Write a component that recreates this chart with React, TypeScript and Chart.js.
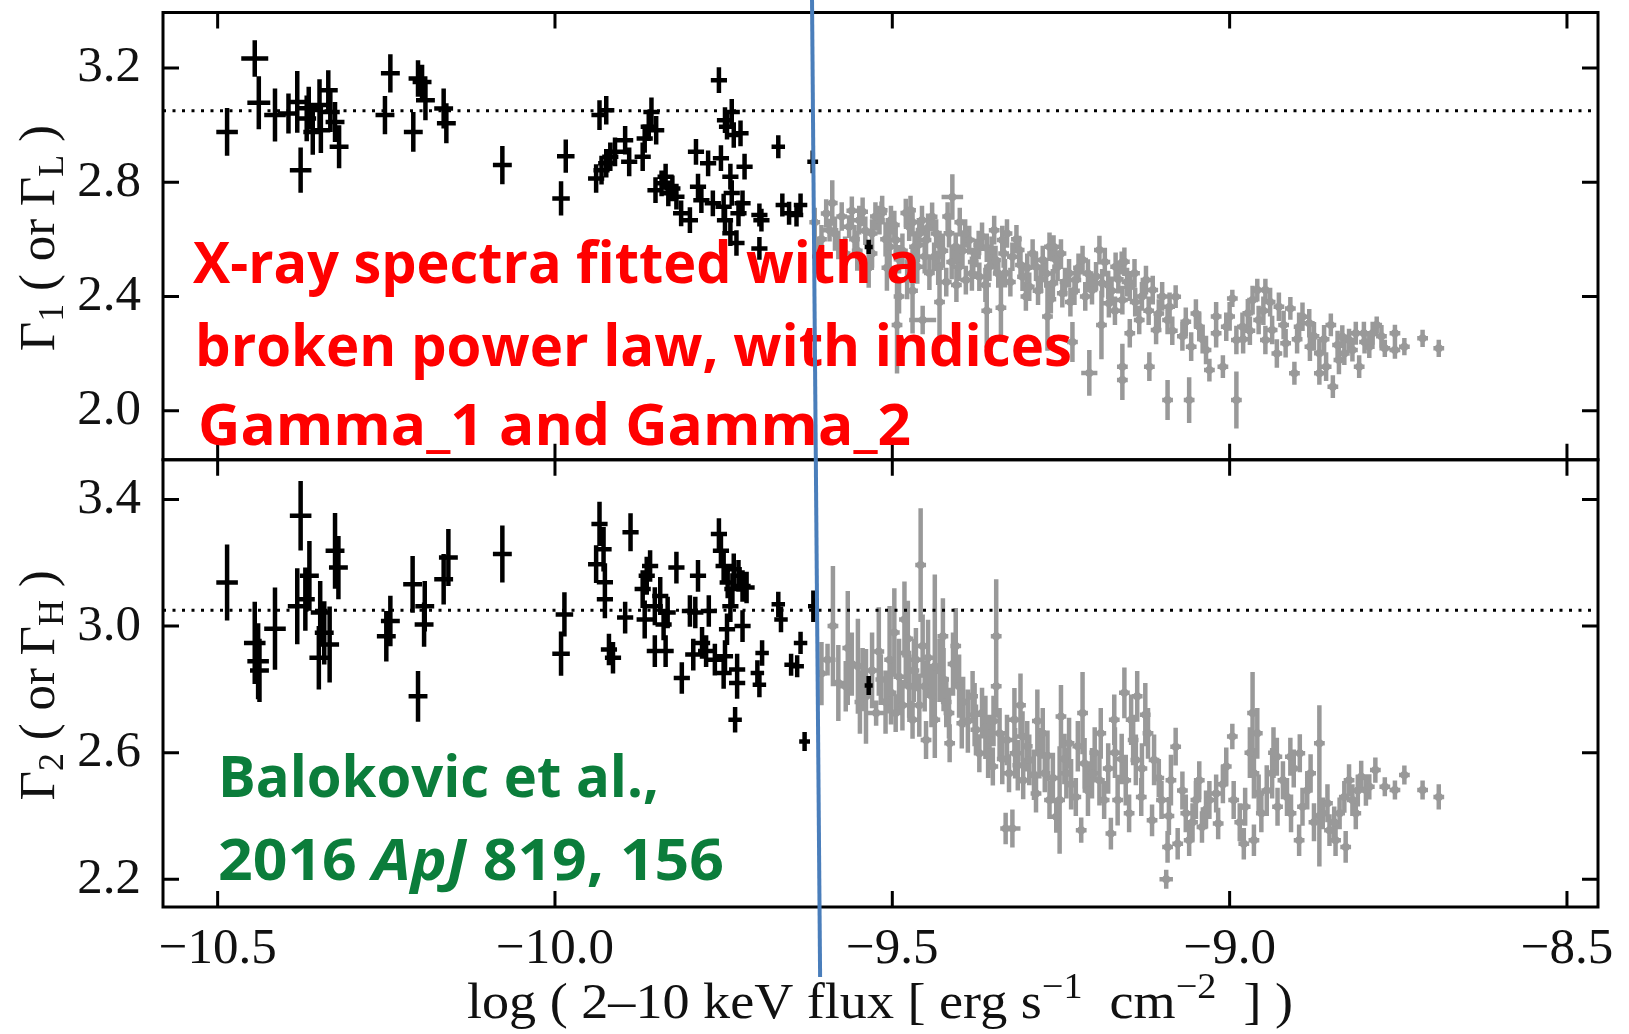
import React, { useEffect, useRef } from "react";
import { Chart, registerables } from "chart.js";

Chart.register(...registerables);

// ---------------- data ----------------
const xTicks = [-10.5, -10.0, -9.5, -9.0, -8.5];
const topYTicks = [2.0, 2.4, 2.8, 3.2];
const botYTicks = [2.2, 2.6, 3.0, 3.4];
const xRange = [-10.581, -8.454];
const topYRange = [1.828, 3.394];
const botYRange = [2.112, 3.526];
const referenceLevel = 3.05;
const blueLineX = [-9.619, -9.607];

type Pt = [number, number, number, number]; // x, y, xerr, yerr

const topBlack: Pt[] = [
  [-10.486, 2.976, 0.016, 0.084], [-10.445, 3.233, 0.02, 0.064], [-10.439, 3.078, 0.017, 0.093],
  [-10.415, 3.035, 0.016, 0.093], [-10.395, 3.04, 0.016, 0.07], [-10.382, 3.081, 0.016, 0.108],
  [-10.377, 2.842, 0.016, 0.079], [-10.368, 3.023, 0.014, 0.08], [-10.365, 3.059, 0.014, 0.075],
  [-10.359, 2.976, 0.014, 0.08], [-10.349, 3.07, 0.014, 0.09], [-10.347, 2.982, 0.014, 0.08],
  [-10.336, 3.122, 0.014, 0.07], [-10.333, 3.046, 0.014, 0.07], [-10.326, 3.011, 0.014, 0.07],
  [-10.32, 2.924, 0.014, 0.075], [-10.244, 3.181, 0.014, 0.067], [-10.252, 3.035, 0.014, 0.067],
  [-10.21, 2.976, 0.014, 0.07], [-10.203, 3.163, 0.014, 0.064], [-10.197, 3.151, 0.014, 0.06],
  [-10.192, 3.087, 0.014, 0.07], [-10.165, 3.058, 0.014, 0.07], [-10.161, 3.006, 0.014, 0.07],
  [-10.078, 2.86, 0.014, 0.067], [-9.984, 2.891, 0.013, 0.058], [-9.991, 2.743, 0.013, 0.06],
  [-9.934, 3.035, 0.012, 0.052], [-9.924, 3.052, 0.012, 0.05], [-9.939, 2.813, 0.012, 0.05],
  [-9.931, 2.842, 0.012, 0.05], [-9.924, 2.866, 0.012, 0.05], [-9.918, 2.889, 0.012, 0.05],
  [-9.911, 2.906, 0.012, 0.05], [-9.896, 2.947, 0.012, 0.05], [-9.89, 2.871, 0.012, 0.05],
  [-9.87, 2.889, 0.012, 0.05], [-9.867, 2.953, 0.012, 0.05], [-9.861, 2.994, 0.012, 0.05],
  [-9.857, 3.046, 0.012, 0.05], [-9.85, 2.982, 0.012, 0.05], [-9.851, 2.772, 0.012, 0.045],
  [-9.842, 2.796, 0.012, 0.045], [-9.836, 2.819, 0.012, 0.045], [-9.832, 2.761, 0.012, 0.045],
  [-9.826, 2.778, 0.012, 0.045], [-9.82, 2.749, 0.012, 0.045], [-9.813, 2.691, 0.012, 0.045],
  [-9.8, 2.667, 0.012, 0.045], [-9.791, 2.906, 0.012, 0.045], [-9.788, 2.784, 0.012, 0.045],
  [-9.783, 2.737, 0.012, 0.045], [-9.773, 2.866, 0.012, 0.045], [-9.766, 2.726, 0.012, 0.045],
  [-9.757, 3.157, 0.012, 0.045], [-9.754, 2.884, 0.012, 0.045], [-9.748, 3.017, 0.012, 0.045],
  [-9.745, 2.994, 0.012, 0.045], [-9.738, 3.046, 0.012, 0.045], [-9.735, 2.965, 0.012, 0.045],
  [-9.725, 2.971, 0.012, 0.045], [-9.74, 2.819, 0.012, 0.045], [-9.738, 2.762, 0.012, 0.045],
  [-9.748, 2.667, 0.012, 0.045], [-9.74, 2.621, 0.012, 0.045], [-9.731, 2.587, 0.012, 0.045],
  [-9.728, 2.691, 0.012, 0.045], [-9.722, 2.726, 0.012, 0.045], [-9.719, 2.854, 0.012, 0.045],
  [-9.75, 2.714, 0.012, 0.045], [-9.697, 2.685, 0.012, 0.04], [-9.697, 2.568, 0.012, 0.04],
  [-9.694, 2.667, 0.012, 0.04], [-9.669, 2.924, 0.01, 0.04], [-9.663, 2.72, 0.01, 0.04],
  [-9.653, 2.691, 0.01, 0.04], [-9.636, 2.72, 0.01, 0.04], [-9.642, 2.685, 0.01, 0.04],
  [-9.618, 2.871, 0.008, 0.04], [-9.535, 2.573, 0.006, 0.025],
];

const topGray: Pt[] = [
  [-9.615, 2.66, 0.008, 0.05], [-9.605, 2.6, 0.008, 0.05], [-9.593, 2.632, 0.013, 0.04],
  [-9.589, 2.727, 0.008, 0.08], [-9.58, 2.58, 0.008, 0.05], [-9.57, 2.55, 0.008, 0.06],
  [-9.564, 2.644, 0.008, 0.04], [-9.556, 2.6, 0.008, 0.05], [-9.549, 2.667, 0.008, 0.05],
  [-9.544, 2.696, 0.008, 0.05], [-9.53, 2.62, 0.008, 0.05], [-9.53, 2.55, 0.008, 0.05],
  [-9.519, 2.667, 0.008, 0.05], [-9.516, 2.692, 0.008, 0.04], [-9.515, 2.702, 0.008, 0.05],
  [-9.504, 2.574, 0.008, 0.09], [-9.502, 2.667, 0.008, 0.05], [-9.495, 2.597, 0.008, 0.05],
  [-9.493, 2.3, 0.008, 0.17], [-9.49, 2.53, 0.008, 0.05], [-9.49, 2.4, 0.008, 0.06],
  [-9.48, 2.692, 0.008, 0.05], [-9.475, 2.644, 0.008, 0.05], [-9.473, 2.702, 0.008, 0.05],
  [-9.467, 2.574, 0.008, 0.05], [-9.463, 2.504, 0.008, 0.06], [-9.46, 2.62, 0.008, 0.05],
  [-9.456, 2.667, 0.008, 0.05], [-9.45, 2.597, 0.008, 0.05], [-9.445, 2.482, 0.008, 0.06],
  [-9.441, 2.679, 0.008, 0.05], [-9.455, 2.317, 0.02, 0.05], [-9.438, 2.539, 0.008, 0.05],
  [-9.43, 2.58, 0.008, 0.05], [-9.42, 2.45, 0.008, 0.05], [-9.416, 2.621, 0.008, 0.05],
  [-9.411, 2.748, 0.016, 0.08], [-9.406, 2.574, 0.008, 0.05], [-9.401, 2.504, 0.008, 0.05],
  [-9.4, 2.66, 0.008, 0.05], [-9.391, 2.457, 0.008, 0.05], [-9.386, 2.597, 0.008, 0.05],
  [-9.38, 2.52, 0.008, 0.05], [-9.376, 2.552, 0.008, 0.05], [-9.371, 2.469, 0.008, 0.05],
  [-9.367, 2.609, 0.008, 0.05], [-9.36, 2.57, 0.008, 0.05], [-9.356, 2.504, 0.008, 0.05],
  [-9.349, 2.632, 0.008, 0.05], [-9.347, 2.527, 0.008, 0.05], [-9.339, 2.36, 0.008, 0.12],
  [-9.337, 2.597, 0.008, 0.05], [-9.333, 2.481, 0.008, 0.05], [-9.33, 2.62, 0.008, 0.05],
  [-9.322, 2.539, 0.008, 0.05], [-9.312, 2.562, 0.008, 0.05], [-9.307, 2.469, 0.008, 0.05],
  [-9.3, 2.5, 0.008, 0.05], [-9.297, 2.434, 0.008, 0.05], [-9.287, 2.504, 0.008, 0.05],
  [-9.28, 2.46, 0.008, 0.05], [-9.277, 2.527, 0.008, 0.05], [-9.267, 2.574, 0.008, 0.05],
  [-9.262, 2.446, 0.008, 0.05], [-9.261, 2.574, 0.008, 0.04], [-9.255, 2.504, 0.008, 0.05],
  [-9.25, 2.55, 0.008, 0.05], [-9.248, 2.411, 0.008, 0.05], [-9.238, 2.481, 0.008, 0.05],
  [-9.233, 2.24, 0.008, 0.07], [-9.23, 2.42, 0.008, 0.05], [-9.228, 2.457, 0.008, 0.05],
  [-9.218, 2.527, 0.008, 0.05], [-9.21, 2.48, 0.008, 0.05], [-9.208, 2.132, 0.012, 0.08],
  [-9.204, 2.422, 0.008, 0.05], [-9.193, 2.562, 0.008, 0.05], [-9.189, 2.446, 0.008, 0.05],
  [-9.18, 2.44, 0.008, 0.05], [-9.179, 2.376, 0.008, 0.05], [-9.17, 2.35, 0.008, 0.05],
  [-9.169, 2.504, 0.008, 0.05], [-9.16, 2.517, 0.008, 0.04], [-9.159, 2.154, 0.008, 0.08],
  [-9.156, 2.521, 0.008, 0.05], [-9.159, 2.387, 0.008, 0.05], [-9.141, 2.481, 0.008, 0.05],
  [-9.148, 2.434, 0.008, 0.05], [-9.14, 2.38, 0.008, 0.05], [-9.124, 2.457, 0.008, 0.05],
  [-9.159, 2.107, 0.008, 0.07], [-9.148, 2.271, 0.008, 0.05], [-9.134, 2.317, 0.008, 0.05],
  [-9.12, 2.35, 0.008, 0.05], [-9.114, 2.422, 0.008, 0.05], [-9.119, 2.154, 0.008, 0.05],
  [-9.109, 2.282, 0.008, 0.05], [-9.1, 2.4, 0.008, 0.05], [-9.092, 2.317, 0.008, 0.05],
  [-9.089, 2.364, 0.008, 0.05], [-9.08, 2.399, 0.008, 0.04], [-9.092, 2.037, 0.008, 0.07],
  [-9.07, 2.26, 0.008, 0.05], [-9.065, 2.311, 0.008, 0.05], [-9.06, 2.037, 0.008, 0.08],
  [-9.057, 2.224, 0.008, 0.05], [-9.05, 2.34, 0.008, 0.05], [-9.045, 2.294, 0.008, 0.05],
  [-9.035, 2.212, 0.008, 0.05], [-9.03, 2.142, 0.008, 0.04], [-9.02, 2.271, 0.008, 0.05],
  [-9.02, 2.33, 0.008, 0.05], [-9.01, 2.154, 0.008, 0.04], [-9.005, 2.294, 0.008, 0.05],
  [-8.996, 2.393, 0.008, 0.03], [-8.99, 2.247, 0.008, 0.05], [-8.99, 2.037, 0.008, 0.1],
  [-8.981, 2.294, 0.008, 0.05], [-8.98, 2.25, 0.008, 0.05], [-8.973, 2.341, 0.008, 0.05],
  [-8.966, 2.387, 0.008, 0.05], [-8.959, 2.422, 0.008, 0.04], [-8.947, 2.422, 0.008, 0.04],
  [-8.957, 2.317, 0.008, 0.05], [-8.95, 2.35, 0.008, 0.05], [-8.947, 2.247, 0.008, 0.05],
  [-8.937, 2.282, 0.008, 0.05], [-8.93, 2.2, 0.008, 0.05], [-8.927, 2.364, 0.008, 0.05],
  [-8.917, 2.236, 0.008, 0.05], [-8.91, 2.358, 0.008, 0.04], [-8.904, 2.131, 0.008, 0.04],
  [-8.897, 2.294, 0.008, 0.05], [-8.892, 2.329, 0.008, 0.05], [-8.882, 2.306, 0.008, 0.05],
  [-8.881, 2.224, 0.008, 0.05], [-8.867, 2.201, 0.008, 0.05], [-8.867, 2.131, 0.008, 0.04],
  [-8.86, 2.25, 0.008, 0.05], [-8.857, 2.154, 0.008, 0.05], [-8.85, 2.3, 0.008, 0.04],
  [-8.847, 2.084, 0.008, 0.04], [-8.838, 2.177, 0.008, 0.05], [-8.833, 2.259, 0.008, 0.04],
  [-8.83, 2.2, 0.008, 0.04], [-8.823, 2.247, 0.008, 0.04], [-8.818, 2.212, 0.008, 0.04],
  [-8.813, 2.271, 0.008, 0.04], [-8.808, 2.154, 0.008, 0.04], [-8.801, 2.271, 0.008, 0.04],
  [-8.793, 2.224, 0.008, 0.04], [-8.788, 2.271, 0.008, 0.04], [-8.782, 2.3, 0.008, 0.03],
  [-8.77, 2.218, 0.008, 0.03], [-8.755, 2.271, 0.008, 0.03], [-8.755, 2.212, 0.008, 0.03],
  [-8.741, 2.224, 0.008, 0.03], [-8.714, 2.253, 0.008, 0.03], [-8.69, 2.218, 0.008, 0.03],
  [-9.61, 2.55, 0.008, 0.06], [-9.598, 2.69, 0.008, 0.05], [-9.585, 2.62, 0.008, 0.06],
  [-9.575, 2.68, 0.008, 0.05], [-9.56, 2.7, 0.008, 0.05], [-9.552, 2.56, 0.008, 0.07],
  [-9.54, 2.63, 0.008, 0.05], [-9.535, 2.5, 0.008, 0.07], [-9.525, 2.68, 0.008, 0.05],
  [-9.51, 2.6, 0.008, 0.06], [-9.508, 2.5, 0.008, 0.08], [-9.497, 2.65, 0.008, 0.05],
  [-9.485, 2.56, 0.008, 0.06], [-9.478, 2.46, 0.008, 0.07], [-9.47, 2.66, 0.008, 0.05],
  [-9.462, 2.58, 0.008, 0.06], [-9.452, 2.54, 0.008, 0.06], [-9.447, 2.64, 0.008, 0.05],
  [-9.435, 2.62, 0.008, 0.05], [-9.432, 2.5, 0.008, 0.06], [-9.425, 2.56, 0.008, 0.06],
  [-9.418, 2.68, 0.008, 0.05], [-9.412, 2.52, 0.008, 0.06], [-9.405, 2.44, 0.008, 0.06],
  [-9.396, 2.56, 0.008, 0.06], [-9.392, 2.62, 0.008, 0.05], [-9.382, 2.48, 0.008, 0.06],
  [-9.372, 2.58, 0.008, 0.05], [-9.362, 2.44, 0.008, 0.06], [-9.353, 2.56, 0.008, 0.05],
  [-9.343, 2.48, 0.008, 0.05], [-9.335, 2.55, 0.008, 0.05], [-9.325, 2.45, 0.008, 0.05],
  [-9.316, 2.6, 0.008, 0.05], [-9.31, 2.51, 0.008, 0.05], [-9.302, 2.4, 0.008, 0.05],
  [-9.292, 2.55, 0.008, 0.05], [-9.284, 2.42, 0.008, 0.05], [-9.272, 2.48, 0.008, 0.05],
  [-9.265, 2.39, 0.008, 0.05], [-9.258, 2.53, 0.008, 0.05], [-9.244, 2.45, 0.008, 0.05],
  [-9.236, 2.38, 0.008, 0.05], [-9.224, 2.5, 0.008, 0.05], [-9.214, 2.4, 0.008, 0.05],
  [-9.198, 2.47, 0.008, 0.05], [-9.185, 2.52, 0.008, 0.05], [-9.175, 2.42, 0.008, 0.05],
  [-9.165, 2.46, 0.008, 0.05], [-9.152, 2.45, 0.008, 0.05], [-9.13, 2.4, 0.008, 0.05],
  [-9.105, 2.34, 0.008, 0.05], [-9.085, 2.28, 0.008, 0.05], [-9.04, 2.25, 0.008, 0.05],
  [-9.0, 2.33, 0.008, 0.05], [-8.97, 2.28, 0.008, 0.05], [-8.94, 2.38, 0.008, 0.05],
  [-8.92, 2.3, 0.008, 0.05], [-8.9, 2.25, 0.008, 0.05], [-8.875, 2.26, 0.008, 0.05],
  [-8.84, 2.23, 0.008, 0.05], [-8.8, 2.24, 0.008, 0.04], [-8.775, 2.26, 0.008, 0.04],
  [-9.47, 2.42, 0.008, 0.15], [-9.43, 2.38, 0.008, 0.14], [-9.36, 2.35, 0.008, 0.13],
  [-9.27, 2.33, 0.008, 0.12], [-9.19, 2.3, 0.008, 0.12],
];

const botBlack: Pt[] = [
  [-10.486, 3.138, 0.016, 0.12], [-10.445, 2.947, 0.016, 0.13], [-10.44, 2.889, 0.016, 0.12],
  [-10.438, 2.86, 0.014, 0.1], [-10.415, 2.992, 0.016, 0.13], [-10.377, 3.349, 0.016, 0.11],
  [-10.382, 3.063, 0.014, 0.12], [-10.364, 3.159, 0.014, 0.11], [-10.37, 3.085, 0.014, 0.1],
  [-10.35, 2.9, 0.014, 0.1], [-10.348, 3.043, 0.014, 0.1], [-10.342, 2.979, 0.014, 0.1],
  [-10.334, 2.942, 0.014, 0.12], [-10.326, 3.238, 0.014, 0.12], [-10.321, 3.185, 0.014, 0.1],
  [-10.25, 2.968, 0.014, 0.08], [-10.244, 3.016, 0.014, 0.08], [-10.211, 3.132, 0.014, 0.09],
  [-10.203, 2.778, 0.014, 0.08], [-10.193, 3.063, 0.014, 0.08], [-10.194, 3.005, 0.014, 0.07],
  [-10.165, 3.148, 0.014, 0.08], [-10.158, 3.217, 0.014, 0.09], [-10.078, 3.228, 0.014, 0.09],
  [-9.986, 3.037, 0.013, 0.07], [-9.991, 2.913, 0.013, 0.07], [-9.934, 3.323, 0.012, 0.07],
  [-9.928, 3.243, 0.012, 0.07], [-9.939, 3.196, 0.012, 0.06], [-9.926, 3.139, 0.012, 0.06],
  [-9.926, 3.085, 0.012, 0.06], [-9.92, 2.926, 0.012, 0.05], [-9.914, 2.9, 0.012, 0.05],
  [-9.896, 3.027, 0.012, 0.05], [-9.888, 3.297, 0.012, 0.06], [-9.867, 3.021, 0.012, 0.06],
  [-9.87, 3.117, 0.012, 0.06], [-9.864, 3.159, 0.012, 0.06], [-9.859, 3.19, 0.012, 0.05],
  [-9.852, 3.063, 0.012, 0.06], [-9.852, 2.921, 0.012, 0.05], [-9.844, 3.095, 0.012, 0.06],
  [-9.839, 3.005, 0.012, 0.05], [-9.836, 2.921, 0.012, 0.05], [-9.833, 3.043, 0.012, 0.05],
  [-9.82, 3.185, 0.012, 0.05], [-9.812, 2.836, 0.012, 0.05], [-9.8, 3.048, 0.012, 0.05],
  [-9.795, 2.91, 0.012, 0.05], [-9.792, 3.043, 0.012, 0.05], [-9.788, 3.159, 0.012, 0.05],
  [-9.782, 2.947, 0.012, 0.05], [-9.776, 2.921, 0.012, 0.05], [-9.772, 3.048, 0.012, 0.05],
  [-9.763, 2.894, 0.012, 0.05], [-9.757, 3.291, 0.012, 0.05], [-9.754, 3.238, 0.012, 0.05],
  [-9.75, 3.19, 0.012, 0.05], [-9.744, 3.138, 0.012, 0.05], [-9.737, 3.117, 0.012, 0.05],
  [-9.735, 3.18, 0.012, 0.05], [-9.728, 3.159, 0.012, 0.05], [-9.722, 3.127, 0.012, 0.05],
  [-9.716, 3.122, 0.012, 0.05], [-9.74, 3.063, 0.012, 0.05], [-9.745, 2.99, 0.012, 0.05],
  [-9.748, 2.905, 0.012, 0.05], [-9.75, 2.852, 0.012, 0.05], [-9.73, 2.863, 0.012, 0.05],
  [-9.73, 2.82, 0.012, 0.05], [-9.722, 3.0, 0.012, 0.05], [-9.733, 2.704, 0.01, 0.04],
  [-9.7, 2.852, 0.01, 0.04], [-9.697, 2.815, 0.01, 0.04], [-9.693, 2.915, 0.01, 0.04],
  [-9.669, 3.069, 0.01, 0.04], [-9.665, 3.021, 0.01, 0.04], [-9.65, 2.878, 0.01, 0.035],
  [-9.641, 2.873, 0.01, 0.035], [-9.636, 2.947, 0.01, 0.035], [-9.63, 2.635, 0.008, 0.03],
  [-9.617, 3.063, 0.008, 0.05], [-9.535, 2.812, 0.006, 0.03],
];

const botGray: Pt[] = [
  [-9.588, 3.0, 0.008, 0.19], [-9.596, 2.894, 0.012, 0.05], [-9.566, 2.931, 0.008, 0.18],
  [-9.569, 2.81, 0.008, 0.08], [-9.551, 2.873, 0.008, 0.15], [-9.544, 2.831, 0.008, 0.1],
  [-9.539, 2.778, 0.008, 0.15], [-9.517, 2.831, 0.008, 0.08], [-9.524, 2.725, 0.014, 0.04],
  [-9.504, 2.894, 0.008, 0.17], [-9.502, 2.789, 0.008, 0.1], [-9.495, 2.725, 0.008, 0.06],
  [-9.482, 3.021, 0.008, 0.12], [-9.48, 2.915, 0.008, 0.1], [-9.475, 2.81, 0.008, 0.1],
  [-9.47, 2.704, 0.008, 0.06], [-9.465, 2.894, 0.008, 0.1], [-9.458, 3.193, 0.008, 0.18],
  [-9.455, 2.937, 0.008, 0.1], [-9.452, 2.81, 0.008, 0.08], [-9.45, 2.64, 0.008, 0.06],
  [-9.437, 2.873, 0.008, 0.29], [-9.437, 2.704, 0.008, 0.06], [-9.425, 2.968, 0.008, 0.12],
  [-9.424, 2.831, 0.008, 0.1], [-9.416, 2.725, 0.008, 0.08], [-9.415, 2.63, 0.008, 0.06],
  [-9.406, 2.937, 0.008, 0.12], [-9.401, 2.81, 0.008, 0.1], [-9.397, 2.693, 0.008, 0.08],
  [-9.381, 2.778, 0.008, 0.08], [-9.376, 2.672, 0.008, 0.08], [-9.371, 2.598, 0.008, 0.06],
  [-9.367, 2.725, 0.008, 0.08], [-9.356, 2.64, 0.008, 0.08], [-9.351, 2.556, 0.008, 0.06],
  [-9.346, 2.968, 0.008, 0.18], [-9.346, 2.81, 0.008, 0.1], [-9.341, 2.661, 0.008, 0.08],
  [-9.332, 2.36, 0.008, 0.05], [-9.322, 2.36, 0.012, 0.06], [-9.327, 2.535, 0.008, 0.06],
  [-9.319, 2.704, 0.008, 0.1], [-9.318, 2.598, 0.008, 0.08], [-9.307, 2.651, 0.008, 0.08],
  [-9.306, 2.513, 0.008, 0.06], [-9.297, 2.577, 0.008, 0.08], [-9.287, 2.471, 0.008, 0.06],
  [-9.282, 2.598, 0.008, 0.08], [-9.277, 2.661, 0.008, 0.08], [-9.274, 2.535, 0.008, 0.06],
  [-9.267, 2.45, 0.008, 0.06], [-9.257, 2.397, 0.008, 0.05], [-9.252, 2.45, 0.008, 0.17],
  [-9.25, 2.714, 0.008, 0.1], [-9.242, 2.535, 0.008, 0.08], [-9.238, 2.63, 0.008, 0.08],
  [-9.228, 2.46, 0.008, 0.06], [-9.22, 2.355, 0.008, 0.04], [-9.218, 2.725, 0.008, 0.13],
  [-9.215, 2.566, 0.008, 0.08], [-9.204, 2.535, 0.008, 0.08], [-9.193, 2.513, 0.008, 0.08],
  [-9.191, 2.661, 0.008, 0.08], [-9.186, 2.45, 0.008, 0.06], [-9.176, 2.344, 0.008, 0.05],
  [-9.171, 2.704, 0.008, 0.08], [-9.166, 2.45, 0.008, 0.08], [-9.156, 2.789, 0.008, 0.08],
  [-9.146, 2.704, 0.008, 0.08], [-9.139, 2.577, 0.008, 0.08], [-9.137, 2.778, 0.008, 0.08],
  [-9.154, 2.513, 0.008, 0.08], [-9.149, 2.408, 0.008, 0.06], [-9.131, 2.46, 0.008, 0.06],
  [-9.121, 2.661, 0.008, 0.08], [-9.112, 2.577, 0.008, 0.08], [-9.115, 2.386, 0.008, 0.05],
  [-9.101, 2.45, 0.008, 0.06], [-9.092, 2.302, 0.008, 0.05], [-9.094, 2.2, 0.01, 0.03],
  [-9.087, 2.513, 0.008, 0.08], [-9.08, 2.619, 0.008, 0.06], [-9.077, 2.312, 0.008, 0.05],
  [-9.065, 2.408, 0.008, 0.06], [-9.06, 2.323, 0.008, 0.05], [-9.05, 2.45, 0.008, 0.06],
  [-9.045, 2.513, 0.008, 0.06], [-9.041, 2.365, 0.008, 0.05], [-9.03, 2.45, 0.008, 0.06],
  [-9.02, 2.471, 0.008, 0.06], [-9.017, 2.376, 0.008, 0.05], [-9.005, 2.556, 0.008, 0.06],
  [-8.996, 2.651, 0.008, 0.04], [-8.994, 2.45, 0.008, 0.06], [-8.979, 2.312, 0.008, 0.05],
  [-8.977, 2.429, 0.008, 0.06], [-8.966, 2.725, 0.008, 0.13], [-8.964, 2.535, 0.008, 0.08],
  [-8.964, 2.323, 0.008, 0.05], [-8.959, 2.661, 0.008, 0.08], [-8.957, 2.471, 0.008, 0.06],
  [-8.953, 2.408, 0.008, 0.06], [-8.937, 2.535, 0.008, 0.08], [-8.93, 2.587, 0.008, 0.06],
  [-8.929, 2.429, 0.008, 0.06], [-8.921, 2.513, 0.008, 0.06], [-8.91, 2.587, 0.008, 0.06],
  [-8.909, 2.408, 0.008, 0.06], [-8.896, 2.598, 0.008, 0.06], [-8.897, 2.323, 0.008, 0.05],
  [-8.892, 2.429, 0.008, 0.06], [-8.88, 2.535, 0.008, 0.06], [-8.867, 2.63, 0.008, 0.12],
  [-8.867, 2.4, 0.008, 0.16], [-8.862, 2.408, 0.008, 0.05], [-8.852, 2.355, 0.008, 0.05],
  [-8.843, 2.323, 0.008, 0.05], [-8.837, 2.408, 0.008, 0.05], [-8.828, 2.302, 0.008, 0.05],
  [-8.823, 2.513, 0.008, 0.05], [-8.818, 2.45, 0.008, 0.05], [-8.813, 2.408, 0.008, 0.05],
  [-8.805, 2.524, 0.008, 0.05], [-8.798, 2.482, 0.008, 0.05], [-8.793, 2.492, 0.008, 0.04],
  [-8.784, 2.545, 0.008, 0.04], [-8.77, 2.492, 0.008, 0.03], [-8.755, 2.482, 0.008, 0.03],
  [-8.741, 2.529, 0.008, 0.03], [-8.714, 2.482, 0.008, 0.03], [-8.69, 2.46, 0.008, 0.04],
  [-9.605, 2.85, 0.008, 0.1], [-9.58, 2.82, 0.008, 0.12], [-9.56, 2.88, 0.008, 0.1],
  [-9.548, 2.76, 0.008, 0.1], [-9.53, 2.86, 0.008, 0.12], [-9.52, 2.92, 0.008, 0.14],
  [-9.51, 2.76, 0.008, 0.1], [-9.497, 2.98, 0.008, 0.14], [-9.49, 2.84, 0.008, 0.12],
  [-9.485, 2.75, 0.008, 0.08], [-9.477, 2.96, 0.008, 0.12], [-9.468, 2.86, 0.008, 0.1],
  [-9.46, 2.75, 0.008, 0.1], [-9.447, 2.9, 0.008, 0.12], [-9.442, 2.78, 0.008, 0.1],
  [-9.43, 2.86, 0.008, 0.1], [-9.42, 2.76, 0.008, 0.08], [-9.41, 2.88, 0.008, 0.1],
  [-9.395, 2.76, 0.008, 0.08], [-9.388, 2.7, 0.008, 0.1], [-9.378, 2.72, 0.008, 0.1],
  [-9.362, 2.68, 0.008, 0.1], [-9.358, 2.6, 0.008, 0.08], [-9.35, 2.7, 0.008, 0.08],
  [-9.337, 2.58, 0.008, 0.08], [-9.33, 2.64, 0.008, 0.08], [-9.314, 2.56, 0.008, 0.08],
  [-9.31, 2.75, 0.008, 0.1], [-9.3, 2.62, 0.008, 0.08], [-9.29, 2.53, 0.008, 0.08],
  [-9.285, 2.7, 0.008, 0.1], [-9.27, 2.59, 0.008, 0.08], [-9.262, 2.52, 0.008, 0.08],
  [-9.245, 2.58, 0.008, 0.08], [-9.235, 2.5, 0.008, 0.08], [-9.225, 2.62, 0.008, 0.08],
  [-9.21, 2.48, 0.008, 0.08], [-9.2, 2.6, 0.008, 0.08], [-9.18, 2.55, 0.008, 0.08],
  [-9.17, 2.6, 0.008, 0.08], [-9.16, 2.58, 0.008, 0.08], [-9.143, 2.64, 0.008, 0.08],
  [-9.13, 2.55, 0.008, 0.08], [-9.125, 2.72, 0.008, 0.1], [-9.105, 2.52, 0.008, 0.06],
  [-9.09, 2.4, 0.008, 0.06], [-9.07, 2.48, 0.008, 0.06], [-9.055, 2.38, 0.008, 0.06],
  [-9.035, 2.42, 0.008, 0.06], [-9.01, 2.5, 0.008, 0.06], [-8.985, 2.38, 0.008, 0.06],
  [-8.97, 2.6, 0.008, 0.08], [-8.945, 2.48, 0.008, 0.08], [-8.935, 2.6, 0.008, 0.08],
  [-8.915, 2.46, 0.008, 0.06], [-8.905, 2.55, 0.008, 0.06], [-8.885, 2.48, 0.008, 0.06],
  [-8.875, 2.38, 0.008, 0.06], [-8.855, 2.44, 0.008, 0.06], [-8.845, 2.38, 0.008, 0.05],
  [-8.83, 2.46, 0.008, 0.05], [-8.81, 2.48, 0.008, 0.05],
];

const redLines = ["X-ray spectra fitted with a", "broken power law, with indices", "Gamma_1 and Gamma_2"];
const greenLine1 = "Balokovic et al.,";
const greenLine2 = ["2016 ", "ApJ", " 819, 156"];

// ---------------- helpers ----------------
const SERIF = '"Liberation Serif", "DejaVu Serif", serif';
const SANS = '"Open Sans", "Noto Sans", sans-serif';
const fmt = (v: number) => v.toFixed(1).replace("-", "\u2212");

type Run = { t: string; font: string; dy?: number };
function runsWidth(ctx: CanvasRenderingContext2D, runs: Run[]) {
  let w = 0;
  for (const r of runs) { ctx.font = r.font; w += ctx.measureText(r.t).width; }
  return w;
}
function drawRuns(ctx: CanvasRenderingContext2D, runs: Run[], x: number, y: number, sx = 1) {
  ctx.save();
  ctx.translate(x, y);
  ctx.scale(sx, 1);
  let cx = 0;
  for (const r of runs) {
    ctx.font = r.font;
    ctx.fillText(r.t, cx, r.dy || 0);
    cx += ctx.measureText(r.t).width;
  }
  ctx.restore();
}

const errorBarPlugin = {
  id: "errorBars",
  beforeDatasetDraw(chart: any, args: any) {
    const ds = chart.data.datasets[args.index];
    if (!ds.errors) return;
    const xs = args.meta.xScale, ys = args.meta.yScale;
    const ctx: CanvasRenderingContext2D = chart.ctx;
    ctx.save();
    ctx.beginPath();
    ctx.rect(xs.left, ys.top, xs.right - xs.left, ys.bottom - ys.top);
    ctx.clip();
    ctx.strokeStyle = ds.barColor;
    ctx.lineWidth = ds.barWidth;
    ctx.lineCap = "butt";
    ctx.beginPath();
    ds.errors.forEach((e: number[], i: number) => {
      const p = ds.data[i];
      const px = xs.getPixelForValue(p.x), py = ys.getPixelForValue(p.y);
      ctx.moveTo(xs.getPixelForValue(p.x - e[0]), py);
      ctx.lineTo(xs.getPixelForValue(p.x + e[0]), py);
      ctx.moveTo(px, ys.getPixelForValue(p.y - e[1]));
      ctx.lineTo(px, ys.getPixelForValue(p.y + e[1]));
    });
    ctx.stroke();
    ctx.restore();
  },
};

const decorPlugin = {
  id: "decor",
  afterDraw(chart: any) {
    const ctx: CanvasRenderingContext2D = chart.ctx;
    const xs = chart.scales.x;
    const TL = 16;
    const panels: [string, number[]][] = [["yTop", topYTicks], ["yBot", botYTicks]];
    ctx.save();
    ctx.strokeStyle = "#000";
    ctx.lineWidth = 3;
    for (const [id, ticks] of panels) {
      const ys = chart.scales[id];
      ctx.strokeRect(xs.left, ys.top, xs.right - xs.left, ys.bottom - ys.top);
      ctx.beginPath();
      for (const v of xTicks) {
        const px = xs.getPixelForValue(v);
        ctx.moveTo(px, ys.top); ctx.lineTo(px, ys.top + TL);
        ctx.moveTo(px, ys.bottom); ctx.lineTo(px, ys.bottom - TL);
      }
      for (const v of ticks) {
        const py = ys.getPixelForValue(v);
        ctx.moveTo(xs.left, py); ctx.lineTo(xs.left + TL, py);
        ctx.moveTo(xs.right, py); ctx.lineTo(xs.right - TL, py);
      }
      ctx.stroke();
    }
    ctx.restore();

    // axis titles
    const F = `51px ${SERIF}`;
    const Fs = `36px ${SERIF}`;
    ctx.save();
    ctx.fillStyle = "#111";
    ctx.textBaseline = "alphabetic";
    const yTitles: [string, string, string][] = [["yTop", "1", "L"], ["yBot", "2", "H"]];
    for (const [id, s1, s2] of yTitles) {
      const ys = chart.scales[id];
      const runs: Run[] = [
        { t: "\u0393", font: F }, { t: s1, font: Fs, dy: 9 },
        { t: " ( or \u0393", font: F }, { t: s2, font: Fs, dy: 9 }, { t: " )", font: F },
      ];
      const w = runsWidth(ctx, runs);
      ctx.save();
      ctx.translate(54, (ys.top + ys.bottom) / 2 + 2);
      ctx.rotate(-Math.PI / 2);
      drawRuns(ctx, runs, -w / 2, 0);
      ctx.restore();
    }
    const xRuns: Run[] = [
      { t: "log ( 2\u201310 keV flux [ erg s", font: F },
      { t: "\u22121", font: Fs, dy: -20 },
      { t: "  cm", font: F },
      { t: "\u22122", font: Fs, dy: -20 },
      { t: "  ] )", font: F },
    ];
    const xw = runsWidth(ctx, xRuns);
    drawRuns(ctx, xRuns, 467, 1018, 826 / xw);
    ctx.restore();

    // annotations
    ctx.save();
    ctx.textBaseline = "alphabetic";
    ctx.fillStyle = "#ff0000";
    const RF = `bold 57px ${SANS}`;
    const redPos: [number, number, number][] = [[193, 283, 727], [195, 366, 877], [198, 445, 713]];
    redLines.forEach((t, i) => {
      const runs: Run[] = [{ t, font: RF }];
      const w = runsWidth(ctx, runs);
      const [x, y, tw] = redPos[i];
      drawRuns(ctx, runs, x, y, tw / w);
    });
    ctx.fillStyle = "#0b7d3b";
    const GF = `bold 58px ${SANS}`;
    const GFi = `italic bold 58px ${SANS}`;
    const g1: Run[] = [{ t: greenLine1, font: GF }];
    drawRuns(ctx, g1, 218, 797, 441 / runsWidth(ctx, g1));
    const g2: Run[] = [
      { t: greenLine2[0], font: GF }, { t: greenLine2[1], font: GFi }, { t: greenLine2[2], font: GF },
    ];
    drawRuns(ctx, g2, 218, 880, 506 / runsWidth(ctx, g2));
    ctx.restore();

    // blue marker line
    ctx.save();
    ctx.strokeStyle = "#4a7ebb";
    ctx.lineWidth = 4;
    ctx.beginPath();
    ctx.moveTo(xs.getPixelForValue(blueLineX[0]), 0);
    ctx.lineTo(xs.getPixelForValue(blueLineX[1]), 977);
    ctx.stroke();
    ctx.restore();
  },
};

function toXY(arr: Pt[]) { return arr.map(([x, y]) => ({ x, y })); }
function toErr(arr: Pt[]) { return arr.map(([, , xe, ye]) => [xe, ye]); }

export default function App() {
  const ref = useRef<HTMLCanvasElement | null>(null);
  useEffect(() => {
    if (!ref.current) return;
    const tickFont = { family: SERIF, size: 51 };
    const yScale = (range: number[], ticks: number[]) => ({
      type: "linear",
      position: "left",
      stack: "panels",
      stackWeight: 1,
      min: range[0],
      max: range[1],
      grid: { display: false },
      border: { display: false },
      ticks: { font: tickFont, color: "#111", padding: 14, callback: (v: number) => fmt(v) },
      afterBuildTicks: (s: any) => { s.ticks = ticks.map((v) => ({ value: v })); },
      afterFit: (s: any) => { s.width = 163; s.paddingTop = 0; s.paddingBottom = 0; },
    });
    const chart = new Chart(ref.current, {
      type: "scatter",
      data: {
        datasets: [
          { type: "line", data: [{ x: xRange[0], y: referenceLevel }, { x: xRange[1], y: referenceLevel }], yAxisID: "yTop", borderColor: "#000", borderWidth: 3, borderDash: [3, 6.5], pointRadius: 0, order: 0 },
          { type: "line", data: [{ x: xRange[0], y: referenceLevel }, { x: xRange[1], y: referenceLevel }], yAxisID: "yBot", borderColor: "#000", borderWidth: 3, borderDash: [3, 6.5], pointRadius: 0, order: 0 },
          { data: toXY(topBlack), errors: toErr(topBlack), yAxisID: "yTop", pointRadius: 0, barColor: "#000", barWidth: 4.5, order: 1 },
          { data: toXY(botBlack), errors: toErr(botBlack), yAxisID: "yBot", pointRadius: 0, barColor: "#000", barWidth: 4.5, order: 1 },
          { data: toXY(topGray), errors: toErr(topGray), yAxisID: "yTop", pointRadius: 4, pointBorderWidth: 0, pointBackgroundColor: "#999", barColor: "#999", barWidth: 4.5, order: 2 },
          { data: toXY(botGray), errors: toErr(botGray), yAxisID: "yBot", pointRadius: 4, pointBorderWidth: 0, pointBackgroundColor: "#999", barColor: "#999", barWidth: 4.5, order: 2 },
        ] as any,
      },
      options: {
        responsive: false,
        devicePixelRatio: 1,
        animation: false,
        events: [],
        layout: { padding: { left: 0, right: 31, top: 12.5, bottom: 0 } },
        plugins: { legend: { display: false }, tooltip: { enabled: false }, title: { display: false } },
        scales: {
          x: {
            type: "linear",
            position: "bottom",
            min: xRange[0],
            max: xRange[1],
            grid: { display: false },
            border: { display: false },
            ticks: { font: tickFont, color: "#111", padding: 4, maxRotation: 0, autoSkip: false, callback: (v: number) => fmt(v) },
            afterBuildTicks: (s: any) => { s.ticks = xTicks.map((v) => ({ value: v })); },
            afterFit: (s: any) => { s.height = 127; s.paddingLeft = 0; s.paddingRight = 0; },
          },
          yBot: yScale(botYRange, botYTicks),
          yTop: yScale(topYRange, topYTicks),
        } as any,
      },
      plugins: [errorBarPlugin, decorPlugin],
    } as any);
    return () => chart.destroy();
  }, []);
  return (
    <div style={{ position: "absolute", left: 0, top: 0, width: 1629, height: 1034, background: "#fff" }}>
      <canvas ref={ref} width={1629} height={1034} style={{ display: "block", width: 1629, height: 1034 }} />
    </div>
  );
}
